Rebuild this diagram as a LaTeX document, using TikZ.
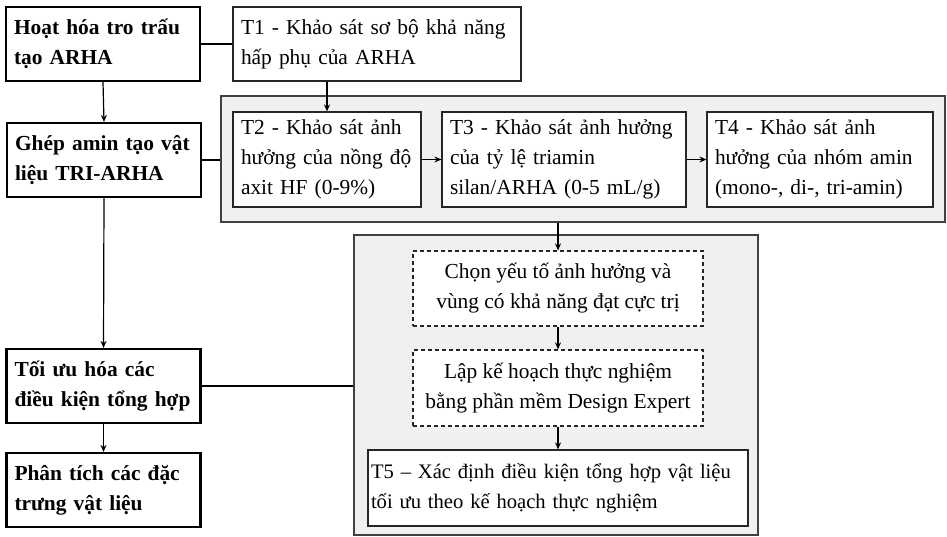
\documentclass[tikz,border=0pt]{standalone}
\usepackage{fontspec}
\setmainfont{Liberation Serif}
\usetikzlibrary{arrows.meta}
\newcommand{\diagfont}{\fontsize{21.4}{30}\selectfont}

\begin{document}
\begin{tikzpicture}[x=1pt,y=-1pt,
	stage/.style={draw, line width=2.2pt, font=\diagfont\bfseries, align=left, inner xsep=8pt, text width=178pt, minimum height=74pt},
	task/.style={draw=black!85, line width=1.2pt, font=\diagfont, align=left, inner xsep=8pt, fill=white},
	group/.style={draw=black!75, line width=1.3pt, fill=black!6},
	plan/.style={draw=black!85, dashed, dash pattern=on 4pt off 3pt, line width=1.2pt, font=\diagfont, align=center, fill=white, minimum width=290pt, minimum height=75pt},
	arr/.style={-{Stealth[length=7pt,width=6pt]}, line width=1.2pt},
	link/.style={line width=1.2pt}]
	\useasboundingbox (0,0) rectangle (947,537);
	% grey frames behind the tasks
	\node(grpA)[group, minimum width=724pt, minimum height=126pt] at (583,159) {};
	\node(grpB)[group, minimum width=404pt, minimum height=300pt] at (556,385) {};
	% main stages
	\node(hoat)[stage] at (103,44) {Hoạt hóa tro trấu\\ tạo ARHA};
	\node(ghep)[stage] at (104,160) {Ghép amin tạo vật\\ liệu TRI-ARHA};
	\node(toiuu)[stage] at (103.5,386) {Tối ưu hóa các\\ điều kiện tổng hợp};
	\node(phantich)[stage] at (103.5,490) {Phân tích các đặc\\ trưng vật liệu};
	% tasks
	\node(tA)[task, text width=272pt, minimum height=74pt] at (377,44) {T1 - Khảo sát sơ bộ khả năng\\ hấp phụ của ARHA};
	\node(tB)[task, text width=172pt, minimum height=95pt] at (327,159.5) {T2 - Khảo sát ảnh\\ hưởng của nồng độ\\ axit HF (0-9\%)};
	\node(tC)[task, text width=228pt, minimum height=95pt] at (564,159.5) {T3 - Khảo sát ảnh hưởng\\ của tỷ lệ triamin\\ silan/ARHA (0-5 mL/g)};
	\node(tD)[task, text width=210pt, minimum height=95pt] at (820,159.5) {T4 - Khảo sát ảnh\\ hưởng của nhóm amin\\ (mono-, di-, tri-amin)};
	\node(chon)[plan] at (558,288.5) {Chọn yếu tố ảnh hưởng và\\ vùng có khả năng đạt cực trị};
	\node(lap)[plan, minimum height=76pt] at (558,388) {Lập kế hoạch thực nghiệm\\ bằng phần mềm Design Expert};
	\node(tE)[task, font=\fontsize{20.6}{30}\selectfont, inner xsep=3pt, text width=374pt, minimum height=76pt] at (558,488) {T5 – Xác định điều kiện tổng hợp vật liệu\\ tối ưu theo kế hoạch thực nghiệm};
	% connectors
	\draw[link] (hoat.east) -- (tA.west);
	\draw[link] (ghep.east) -- (ghep.east -| grpA.west);
	\draw[link] (toiuu.east) -- (toiuu.east -| grpB.west);
	\draw[arr] (hoat.south) -- (ghep.north);
	\draw[arr] (ghep.south) -- (toiuu.north);
	\draw[arr] (toiuu.south) -- (phantich.north);
	\draw[arr] (tB.north |- tA.south) -- (tB.north);
	\draw[arr] (tB.east) -- (tC.west);
	\draw[arr] (tC.east) -- (tD.west);
	\draw[arr] (chon.north |- grpA.south) -- (chon.north);
	\draw[arr] (chon.south) -- (lap.north);
	\draw[arr] (lap.south) -- (tE.north);
\end{tikzpicture}
\end{document}
